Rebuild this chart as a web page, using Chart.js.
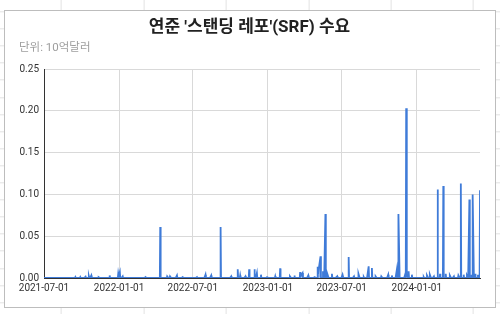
<!DOCTYPE html>
<html>
<head>
<meta charset="utf-8">
<script src="https://cdn.jsdelivr.net/npm/chart.js@4/dist/chart.umd.min.js"></script>
<style>
  html, body { margin:0; padding:0; }
  body {
    width:500px; height:314px; position:relative; overflow:hidden; background:#fff;
    background-image:
      repeating-linear-gradient(90deg, transparent 0, transparent 81.4px, #e2e2e2 81.4px, #e2e2e2 82.4px),
      repeating-linear-gradient(180deg, transparent 0, transparent 16.1px, #e2e2e2 16.1px, #e2e2e2 17.1px);
    background-position: -20.4px 0, 0 -4.7px;
  }
  #box { position:absolute; left:4px; top:10px; width:492px; height:298px; box-sizing:border-box;
         border:1px solid #bdbdbd; background:#fff; }
  canvas { position:absolute; left:0; top:0; }
</style>
</head>
<body>
<div id="box"></div>
<canvas id="c" width="500" height="314"></canvas>
<script>
const chartTitle = "연준 '스탠딩 레포'(SRF) 수요";
const chartSubtitle = "단위: 10억달러";
const startDate = "2021-07-01";
const tickLabels = ["2021-07-01","2022-01-01","2022-07-01","2023-01-01","2023-07-01","2024-01-01"];
const yTicks = [0, 0.05, 0.10, 0.15, 0.20, 0.25];

const dates = [
"2021-07-01",
"2021-09-15","2021-09-16","2021-09-17",
"2021-09-27","2021-09-28","2021-09-29",
"2021-10-08","2021-10-11","2021-10-12",
"2021-10-18","2021-10-19","2021-10-20",
"2021-10-22","2021-10-25","2021-10-26",
"2021-11-11","2021-11-12","2021-11-15",
"2021-12-08","2021-12-09","2021-12-10",
"2021-12-29","2021-12-30","2021-12-31","2022-01-03","2022-01-04",
"2022-01-07","2022-01-10","2022-01-11",
"2022-03-04","2022-03-07","2022-03-08",
"2022-04-11","2022-04-12","2022-04-13",
"2022-04-28","2022-04-29","2022-05-02",
"2022-05-05","2022-05-06","2022-05-09",
"2022-05-20","2022-05-23","2022-05-24",
"2022-06-03","2022-06-06","2022-06-07",
"2022-07-08","2022-07-11","2022-07-12",
"2022-07-29","2022-08-01","2022-08-02",
"2022-08-12","2022-08-15","2022-08-16",
"2022-09-06","2022-09-07","2022-09-08",
"2022-09-30","2022-10-03","2022-10-04",
"2022-10-18","2022-10-19","2022-10-20",
"2022-10-24","2022-10-25","2022-10-26",
"2022-11-04","2022-11-07","2022-11-08",
"2022-11-15","2022-11-16","2022-11-17",
"2022-11-28","2022-11-29","2022-11-30",
"2022-12-02","2022-12-05","2022-12-06",
"2022-12-14","2022-12-15","2022-12-16",
"2022-12-29","2022-12-30","2023-01-03",
"2023-01-18","2023-01-19","2023-01-20",
"2023-01-30","2023-01-31","2023-02-01",
"2023-02-23","2023-02-24","2023-02-27",
"2023-03-06","2023-03-07","2023-03-08",
"2023-03-20","2023-03-21","2023-03-22","2023-03-27","2023-03-28",
"2023-04-07","2023-04-10","2023-04-11",
"2023-04-24","2023-04-25","2023-04-26",
"2023-05-02","2023-05-03","2023-05-04","2023-05-10","2023-05-11",
"2023-05-15","2023-05-16","2023-05-17",
"2023-05-19","2023-05-22","2023-05-23",
"2023-05-25","2023-05-26","2023-05-30",
"2023-06-06","2023-06-07","2023-06-08",
"2023-06-16","2023-06-20","2023-06-21",
"2023-06-30","2023-07-03","2023-07-05",
"2023-07-17","2023-07-18","2023-07-19",
"2023-07-28","2023-07-31","2023-08-01",
"2023-08-10","2023-08-11","2023-08-14",
"2023-08-23","2023-08-24","2023-08-25",
"2023-09-01","2023-09-05","2023-09-06",
"2023-09-12","2023-09-13","2023-09-14",
"2023-09-21","2023-09-22","2023-09-25",
"2023-10-05","2023-10-06","2023-10-09",
"2023-10-20","2023-10-23","2023-10-24",
"2023-10-31","2023-11-01","2023-11-02",
"2023-11-10","2023-11-13","2023-11-14",
"2023-11-16","2023-11-17","2023-11-20",
"2023-12-01","2023-12-04","2023-12-05","2023-12-06","2023-12-07","2023-12-08","2023-12-11",
"2023-12-12","2023-12-13",
"2023-12-19","2023-12-20","2023-12-21",
"2024-01-17","2024-01-18","2024-01-19",
"2024-01-25","2024-01-26","2024-01-29",
"2024-02-01","2024-02-02","2024-02-05",
"2024-02-09","2024-02-12","2024-02-13",
"2024-02-20","2024-02-21","2024-02-22",
"2024-02-26","2024-02-27","2024-02-28",
"2024-03-05","2024-03-06","2024-03-07",
"2024-03-11","2024-03-12","2024-03-13",
"2024-03-21","2024-03-22","2024-03-25",
"2024-03-29","2024-04-01","2024-04-02",
"2024-04-11","2024-04-12","2024-04-15",
"2024-04-17","2024-04-18","2024-04-19",
"2024-04-24","2024-04-25","2024-04-26",
"2024-05-02","2024-05-03","2024-05-06",
"2024-05-08","2024-05-09","2024-05-10",
"2024-05-13","2024-05-14","2024-05-15",
"2024-05-16","2024-05-17","2024-05-20",
"2024-05-22","2024-05-23","2024-05-24",
"2024-05-29","2024-05-30","2024-05-31",
"2024-06-03","2024-06-04"
];

const values = [
0,
0,0.001,0,
0,0.001,0,
0,0.0015,0,
0,0.002,0,
0,0.003,0,
0,0.001,0,
0,0.003,0,
0,0.005,0.002,0.007,0,
0,0.002,0,
0,0.001,0,
0,0.061,0,
0,0.002,0,
0,0.002,0,
0,0.003,0,
0,0.001,0,
0,0.001,0,
0,0.004,0,
0,0.003,0,
0,0.061,0,
0,0.002,0,
0,0.0105,0,
0,0.003,0,
0,0.002,0,
0,0.0105,0,
0,0.0105,0,
0,0.006,0,
0,0.004,0,
0,0.001,0,
0,0.002,0,
0,0.0115,0,
0,0.002,0,
0,0.003,0,
0,0.007,0.002,0.006,0,
0,0.003,0,
0,0.002,0,
0,0.0135,0.005,0.026,0,
0,0.008,0,
0,0.0765,0,
0,0.006,0,
0,0.005,0,
0,0.002,0,
0,0.004,0,
0,0.025,0,
0,0.002,0,
0,0.005,0,
0,0.001,0,
0,0.014,0,
0,0.012,0,
0,0.002,0,
0,0.002,0,
0,0.004,0,
0,0.003,0,
0,0.0095,0,
0,0.0765,0,
0,0.005,0,0.203,0.019,0.004,0,
0.008,0,
0,0.004,0,
0,0.001,0,
0,0.003,0,
0,0.004,0,
0,0.002,0,
0,0.106,0,
0,0.005,0,
0,0.110,0,
0,0.005,0,
0,0.003,0,
0,0.002,0,
0,0.003,0,
0,0.113,0,
0,0.004,0,
0,0.003,0,
0,0.094,0,
0,0.004,0,
0,0.100,0,
0,0.005,0,
0,0.004,0,
0,0.105
];

function dayIndex(s) {
  const [y, m, d] = s.split('-').map(Number);
  const [y0, m0, d0] = startDate.split('-').map(Number);
  return Math.round((Date.UTC(y, m - 1, d) - Date.UTC(y0, m0 - 1, d0)) / 86400000);
}
const points = dates.map((d, i) => ({ x: dayIndex(d), y: values[i] }));
const tickDays = tickLabels.map(dayIndex);
const lastDay = dayIndex(dates[dates.length - 1]);

const FONT = 'Roboto, "Noto Sans CJK KR", sans-serif';
const blue = '#3f7bd8';

new Chart(document.getElementById('c'), {
  type: 'line',
  data: {
    datasets: [{
      data: points,
      borderColor: blue,
      backgroundColor: 'rgba(63,123,216,0.55)',
      borderWidth: 1.8,
      pointRadius: 0,
      tension: 0,
      fill: 'origin'
    }]
  },
  options: {
    responsive: false,
    animation: false,
    devicePixelRatio: 1,
    layout: { padding: { left: 19, right: 20, top: 0, bottom: 0 } },
    plugins: {
      legend: { display: false },
      tooltip: { enabled: false },
      title: {
        display: true, text: chartTitle, color: '#212121',
        font: { family: FONT, size: 17, weight: 'bold' },
        padding: { top: 17.8, bottom: 0 }
      },
      subtitle: {
        display: true, text: chartSubtitle, color: '#9e9e9e', align: 'start',
        font: { family: FONT, size: 11.5 },
        padding: { top: 2.9, bottom: 14.1 }
      }
    },
    scales: {
      x: {
        type: 'linear', min: 0, max: lastDay,
        afterBuildTicks: s => { s.ticks = tickDays.map(v => ({ value: v })); },
        afterFit: s => { s.height = 36; },
        ticks: {
          autoSkip: false, maxRotation: 0, padding: 4, color: '#333',
          font: { family: FONT, size: 10 },
          callback: v => tickLabels[tickDays.indexOf(v)]
        },
        grid: { color: '#d9d9d9', drawTicks: false },
        border: { color: '#333', width: 1 }
      },
      y: {
        min: 0, max: 0.25,
        afterBuildTicks: s => { s.ticks = yTicks.map(v => ({ value: v })); },
        afterFit: s => { s.width = 25; },
        ticks: {
          padding: 5, color: '#333',
          font: { family: FONT, size: 10 },
          callback: v => v.toFixed(2)
        },
        grid: { color: '#d9d9d9', drawTicks: false },
        border: { color: '#333', width: 1 }
      }
    }
  }
});
</script>
</body>
</html>
